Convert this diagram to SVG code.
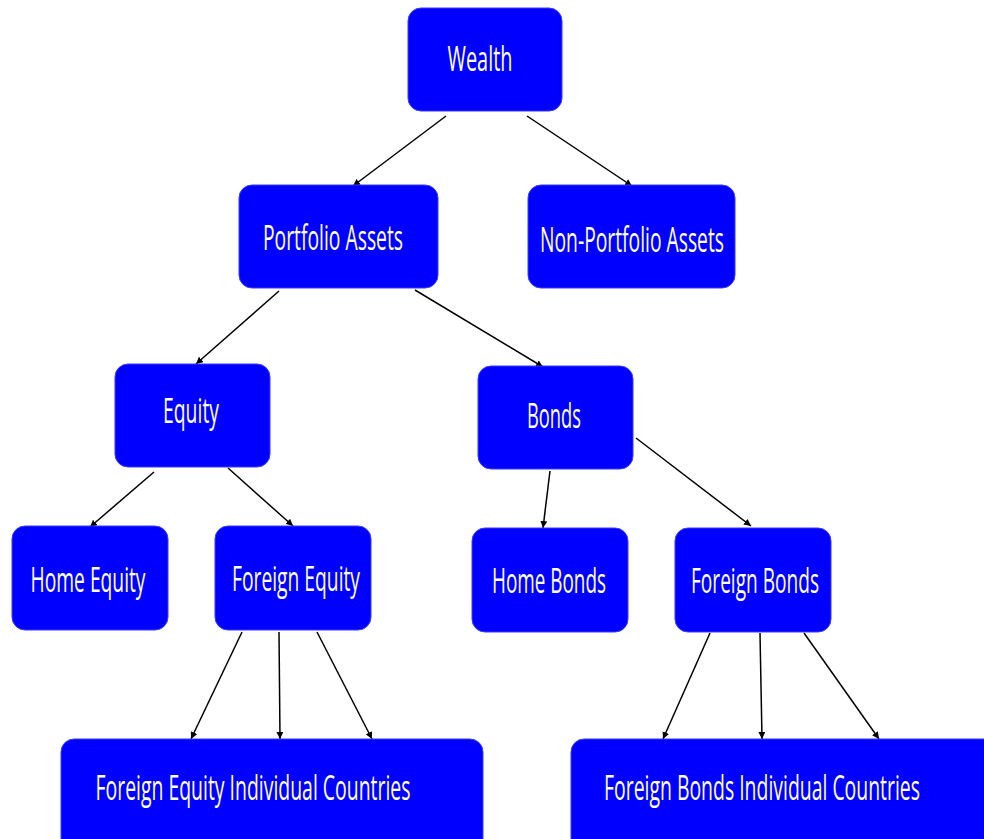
<svg xmlns="http://www.w3.org/2000/svg" width="984" height="839" viewBox="0 0 984 839">
<defs>
<style>
.box{fill:#0000ff;stroke:#3b3bff;stroke-width:1}
.lbl{font-family:"Open Sans","Noto Sans","DejaVu Sans",sans-serif;font-size:34px;fill:#ffffff;text-anchor:middle}
.edge{stroke:#000;stroke-width:1.5;fill:none;marker-end:url(#ah)}
</style>
<marker id="ah" viewBox="0 0 10 10" refX="10" refY="5" markerWidth="7" markerHeight="7" markerUnits="userSpaceOnUse" orient="auto">
<path d="M0,0 L10,5 L0,10 z" fill="#000"/>
</marker>
</defs>
<rect width="984" height="839" fill="#fff"/>
<g id="connectors">
<line class="edge" x1="446" y1="116" x2="353" y2="186"/>
<line class="edge" x1="527" y1="116" x2="632" y2="186"/>
<line class="edge" x1="279" y1="291" x2="196" y2="364"/>
<line class="edge" x1="415" y1="290" x2="543" y2="367"/>
<line class="edge" x1="154" y1="472" x2="90" y2="527"/>
<line class="edge" x1="228" y1="468" x2="293" y2="526"/>
<line class="edge" x1="550" y1="471" x2="543" y2="528"/>
<line class="edge" x1="636" y1="438" x2="751" y2="526"/>
<line class="edge" x1="242" y1="632" x2="191" y2="739"/>
<line class="edge" x1="279" y1="632" x2="280" y2="739"/>
<line class="edge" x1="317" y1="632" x2="372" y2="739"/>
<line class="edge" x1="710" y1="633" x2="663" y2="739"/>
<line class="edge" x1="760" y1="633" x2="762" y2="739"/>
<line class="edge" x1="804" y1="633" x2="879" y2="739"/>
</g>
<g id="wealth"><rect class="box" x="408" y="8" width="154" height="103" rx="13"/><text class="lbl" x="480" y="71" textLength="65" lengthAdjust="spacingAndGlyphs">Wealth</text></g>
<g id="portfolio"><rect class="box" x="239" y="185" width="199" height="103" rx="13"/><text class="lbl" x="333" y="250" textLength="140" lengthAdjust="spacingAndGlyphs">Portfolio Assets</text></g>
<g id="nonportfolio"><rect class="box" x="528" y="185" width="207" height="103" rx="13"/><text class="lbl" x="632" y="252" textLength="184" lengthAdjust="spacingAndGlyphs">Non-Portfolio Assets</text></g>
<g id="equity"><rect class="box" x="115" y="364" width="155" height="103" rx="13"/><text class="lbl" x="191" y="423" textLength="56" lengthAdjust="spacingAndGlyphs">Equity</text></g>
<g id="bonds"><rect class="box" x="478" y="366" width="155" height="103" rx="13"/><text class="lbl" x="554" y="428" textLength="54" lengthAdjust="spacingAndGlyphs">Bonds</text></g>
<g id="homeequity"><rect class="box" x="12" y="526" width="156" height="104" rx="13"/><text class="lbl" x="88" y="592" textLength="115" lengthAdjust="spacingAndGlyphs">Home Equity</text></g>
<g id="foreignequity"><rect class="box" x="215" y="526" width="156" height="104" rx="13"/><text class="lbl" x="296" y="591" textLength="128" lengthAdjust="spacingAndGlyphs">Foreign Equity</text></g>
<g id="homebonds"><rect class="box" x="472" y="528" width="156" height="104" rx="13"/><text class="lbl" x="549" y="593" textLength="114" lengthAdjust="spacingAndGlyphs">Home Bonds</text></g>
<g id="foreignbonds"><rect class="box" x="675" y="528" width="156" height="104" rx="13"/><text class="lbl" x="755" y="593" textLength="128" lengthAdjust="spacingAndGlyphs">Foreign Bonds</text></g>
<g id="feic"><rect class="box" x="61" y="739" width="422" height="120" rx="13"/><text class="lbl" x="253" y="800" textLength="315" lengthAdjust="spacingAndGlyphs">Foreign Equity Individual Countries</text></g>
<g id="fbic"><rect class="box" x="571" y="739" width="440" height="120" rx="13"/><text class="lbl" x="762" y="800" textLength="316" lengthAdjust="spacingAndGlyphs">Foreign Bonds Individual Countries</text></g>
</svg>
